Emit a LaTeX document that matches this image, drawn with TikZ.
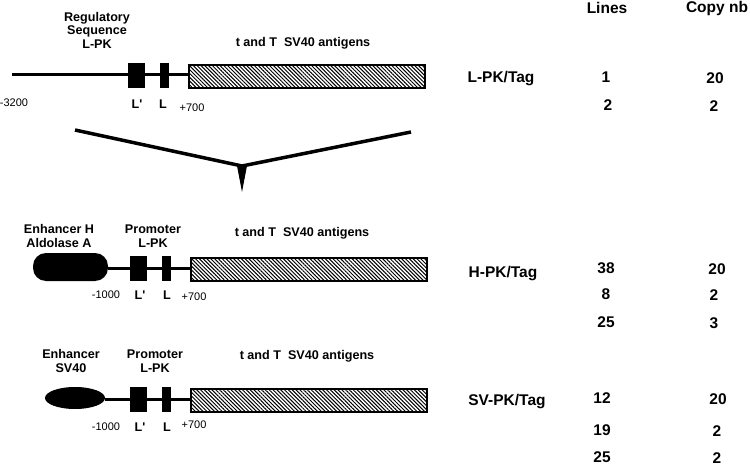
\documentclass[tikz,border=0pt]{standalone}
\usepackage{fontspec}
\setmainfont{Liberation Sans}
\usetikzlibrary{patterns.meta, arrows.meta}

\begin{document}
\begin{tikzpicture}[x=1pt, y=-1pt,
    dna/.style={line width=3pt},
    antigen/.style={draw, line width=1.2pt,
        pattern={Lines[angle=-45, distance=2.7pt, line width=1pt]}},
    lbl/.style={font=\fontsize{12.6}{13.5}\selectfont\bfseries, align=center},
    bpnum/.style={font=\fontsize{11}{12}\selectfont},
    col/.style={font=\fontsize{15.5}{16}\selectfont\bfseries}]

\useasboundingbox (0,0) rectangle (750,468);

\draw[dna] (12,75) -- (189,75);
\draw[dna] (108,268) -- (192,268);
\draw[dna] (105,399) -- (192,399);

\foreach \dx/\yc in {0/75, 2/268, 2/399} {
    \fill (128+\dx,\yc-12) rectangle (145+\dx,\yc+13);
    \fill (160+\dx,\yc-12) rectangle (169+\dx,\yc+13);
    \draw[antigen] (189+\dx,\yc-10) rectangle (425+\dx,\yc+13);
}

\fill[rounded corners=13pt] (33,253) rectangle (108,281);
\fill (75,398) ellipse [x radius=30, y radius=11];

\node[lbl] (reg) at (97,30) {Regulatory\\Sequence\\L-PK};
\node[lbl] (ag1) at (303,43) {t and T~~SV40 antigens};
\node[bpnum] (m3200) at (14,103) {-3200};
\node[lbl] (lp1) at (137,104) {L\textquotesingle};
\node[lbl] (l1) at (163,104) {L};
\node[bpnum] (p1) at (192,108) {+700};

\node[lbl] (enhH) at (59,236) {Enhancer H\\Aldolase A};
\node[lbl] (prom2) at (153,236) {Promoter\\L-PK};
\node[lbl] (ag2) at (302,233) {t and T~~SV40 antigens};
\node[bpnum] (m1000a) at (106,295) {-1000};
\node[lbl] (lp2) at (140,295) {L\textquotesingle};
\node[lbl] (l2) at (167,295) {L};
\node[bpnum] (p2) at (194,297) {+700};

\node[lbl] (enhSV) at (71,361) {Enhancer\\SV40};
\node[lbl] (prom3) at (155,361) {Promoter\\L-PK};
\node[lbl] (ag3) at (307,356) {t and T~~SV40 antigens};
\node[bpnum] (m1000b) at (106,427) {-1000};
\node[lbl] (lp3) at (140,427) {L\textquotesingle};
\node[lbl] (l3) at (167,427) {L};
\node[bpnum] (p3) at (194,425) {+700};

\node[col] (lines) at (607,8) {Lines};
\node[col] (copy) at (717,8) {Copy nb};
\node[col] (lpk) at (501,79) {L-PK/Tag};
\node[col] (hpk) at (503,274) {H-PK/Tag};
\node[col] (svpk) at (507,402) {SV-PK/Tag};

\foreach \n/\y/\a/\xa/\b/\xb in {
    a/77/1/606/20/715, b/105/2/608/2/714,
    c/268/38/606/20/717, d/294/8/606/2/714, e/322/25/606/3/714,
    f/398/12/602/20/718, g/430/19/602/2/717, h/457/25/602/2/717}
    {
    \node[col] (line\n) at (\xa,\y) {\a};
    \node[col] (copy\n) at (\xb,\y+1) {\b};
    }

\coordinate (vl) at (75,130);
\coordinate (vm) at (242,166);
\coordinate (vr) at (411,132);
\coordinate (vtip) at (242,192);
\draw[line width=3.5pt, line join=miter] (vl) -- (vm) -- (vr);
\draw[line width=1pt, -{Triangle[length=27pt, width=10pt]}] (vm) -- (vtip);

\end{tikzpicture}
\end{document}
